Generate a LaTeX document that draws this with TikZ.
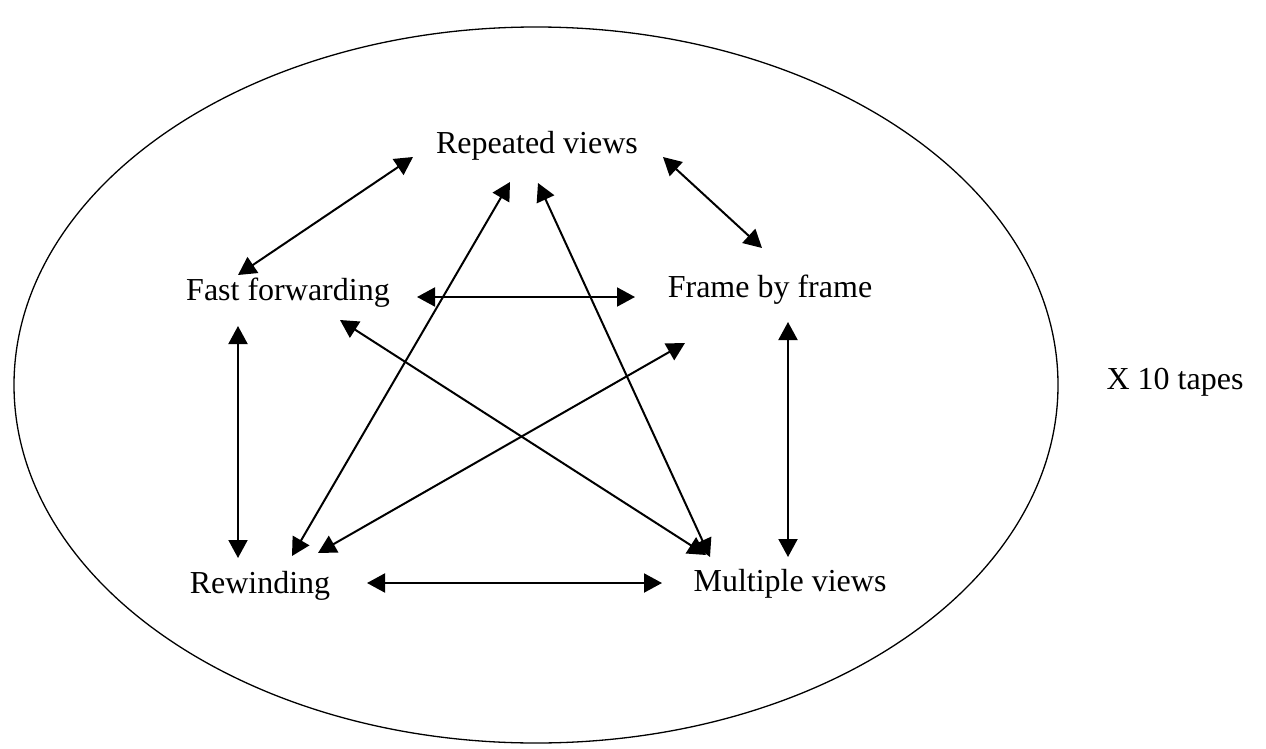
\documentclass[tikz,border=0pt]{standalone}
\usepackage{fontspec}
\setmainfont{Liberation Serif}
\usetikzlibrary{arrows.meta}
\begin{document}
\begin{tikzpicture}[x=1pt,y=-1pt,
  lbl/.style={font=\fontsize{32}{38}\selectfont, inner sep=0pt},
  dbl/.style={line width=2pt, {Triangle[length=18pt,width=19pt]}-{Triangle[length=18pt,width=19pt]}}]
\useasboundingbox (0,0) rectangle (1266,749);
\draw[line width=1.3pt] (536,385) ellipse [x radius=522, y radius=358];
\node[lbl] (rep) at (537,146) {Repeated views};
\node[lbl] (fast) at (288,293) {Fast forwarding};
\node[lbl] (frame) at (770,290) {Frame by frame};
\node[lbl] (rew) at (260,586) {Rewinding};
\node[lbl] (mult) at (790,584) {Multiple views};
\node[lbl] (tapes) at (1175,382) {X 10 tapes};
% arrow end points
\coordinate (a1) at (413,157); \coordinate (a2) at (238,275);
\coordinate (b1) at (663,157); \coordinate (b2) at (762,248);
\coordinate (c1) at (417,297); \coordinate (c2) at (635,297);
\coordinate (d1) at (238,326); \coordinate (d2) at (238,558);
\coordinate (e1) at (788,322); \coordinate (e2) at (788,557);
\coordinate (f1) at (367,583); \coordinate (f2) at (662,583);
\coordinate (g1) at (510,182); \coordinate (g2) at (292,556);
\coordinate (h1) at (538,183); \coordinate (h2) at (710,557);
\coordinate (i1) at (340,320); \coordinate (i2) at (706,555);
\coordinate (j1) at (685,343); \coordinate (j2) at (318,553);
\draw[dbl] (a1) -- (a2);
\draw[dbl] (b1) -- (b2);
\draw[dbl] (c1) -- (c2);
\draw[dbl] (d1) -- (d2);
\draw[dbl] (e1) -- (e2);
\draw[dbl] (f1) -- (f2);
\draw[dbl] (g1) -- (g2);
\draw[dbl] (h1) -- (h2);
\draw[dbl] (i1) -- (i2);
\draw[dbl] (j1) -- (j2);
\end{tikzpicture}
\end{document}
